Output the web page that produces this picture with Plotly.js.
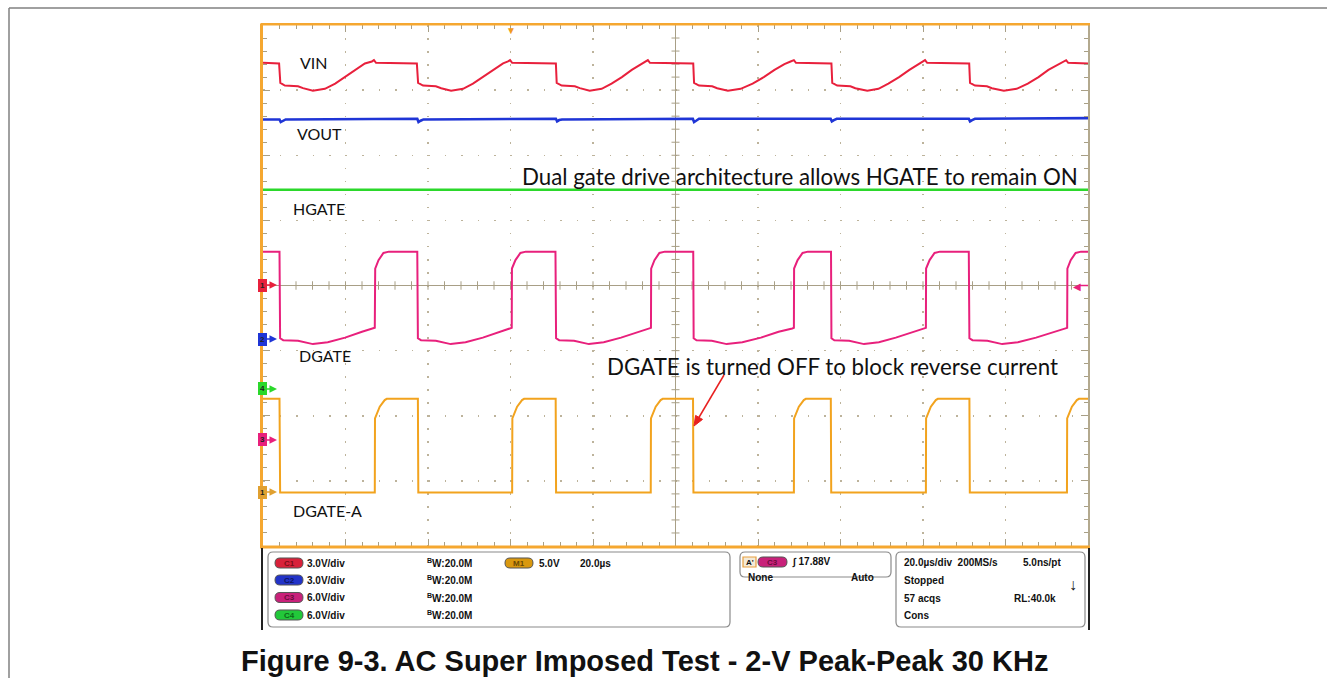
<!DOCTYPE html>
<html><head><meta charset="utf-8">
<script src="https://cdn.plot.ly/plotly-3.0.1.min.js"></script>
<style>html,body{margin:0;padding:0;background:#fff;}#chart{width:1327px;height:678px;}</style>
</head><body><div id="chart"></div>
<script>
// ---- time axis: microseconds (20 us/div, 10 div); vertical: screen divisions (0 = bottom, 8 = top)
const vinT = [0, 3.9,
  4.2, 5.3, 8.5, 9.7, 12.1, 15.0, 17.5, 19.9, 22.3, 24.7, 26.4, 26.9, 27.4, 37.3,
  37.6, 38.8, 41.9, 43.2, 45.6, 48.5, 50.9, 53.3, 55.8, 58.2, 59.4, 59.9, 60.4, 71.0,
  71.2, 72.4, 75.6, 76.8, 79.2, 82.1, 84.5, 87.0, 89.4, 91.8, 92.8, 93.3, 93.8, 104.3,
  104.5, 105.7, 108.9, 110.1, 112.7, 115.8, 118.7, 121.4, 124.0, 126.4, 127.9, 128.7, 129.2, 137.8,
  138.0, 139.2, 142.4, 143.6, 146.5, 149.2, 151.6, 154.2, 156.7, 158.8, 160.0, 160.5, 161.0, 171.2,
  171.4, 172.6, 175.5, 176.7, 179.6, 182.7, 185.4, 188.0, 190.4, 192.8, 194.0, 194.7, 195.2, 200];
const vinY = [7.42, 7.41,
  7.11, 7.07, 7.06, 7.03, 6.99, 7.02, 7.10, 7.20, 7.31, 7.41, 7.44, 7.46, 7.42, 7.41,
  7.11, 7.07, 7.06, 7.03, 6.99, 7.02, 7.10, 7.20, 7.31, 7.41, 7.44, 7.46, 7.42, 7.41,
  7.11, 7.07, 7.06, 7.03, 6.99, 7.02, 7.10, 7.20, 7.31, 7.41, 7.44, 7.46, 7.42, 7.41,
  7.11, 7.07, 7.06, 7.03, 6.99, 7.02, 7.10, 7.20, 7.31, 7.40, 7.44, 7.46, 7.42, 7.41,
  7.11, 7.07, 7.06, 7.03, 6.99, 7.02, 7.10, 7.20, 7.31, 7.40, 7.44, 7.46, 7.42, 7.41,
  7.11, 7.07, 7.06, 7.03, 6.99, 7.02, 7.10, 7.20, 7.31, 7.40, 7.44, 7.46, 7.42, 7.41];

const voutT = [0, 4.0, 4.3, 4.8, 5.5, 37.4, 37.7, 38.2, 38.9, 71.0, 71.3, 71.8, 72.5,
  104.2, 104.5, 105.0, 105.7, 137.6, 137.9, 138.4, 139.1, 171.1, 171.4, 171.9, 172.6, 200];
const voutY = [6.55, 6.55, 6.51, 6.53, 6.55, 6.56, 6.51, 6.53, 6.55, 6.56, 6.52, 6.54, 6.55,
  6.56, 6.51, 6.53, 6.56, 6.56, 6.52, 6.54, 6.56, 6.56, 6.52, 6.54, 6.56, 6.57];

const hgateT = [0, 200];
const hgateY = [5.47, 5.47];

const dgateT = [0, 4.0,
  4.15, 4.9, 8.5, 12.1, 15.7, 19.9, 24.0, 26.7, 27.1, 27.2, 28.0, 29.2, 30.5, 37.4,
  37.55, 38.3, 41.9, 45.5, 49.1, 53.3, 57.4, 60.0, 60.3, 60.35, 61.2, 62.4, 63.7, 70.9,
  71.05, 71.8, 75.4, 79.0, 82.6, 86.8, 90.9, 93.7, 94.05, 94.1, 94.9, 96.1, 97.4, 104.3,
  104.4, 105.1, 108.8, 112.4, 116.2, 120.7, 125.0, 128.3, 128.7, 128.75, 129.6, 130.8, 132.1, 137.7,
  137.8, 138.5, 142.1, 145.7, 149.3, 153.4, 157.5, 160.3, 160.7, 160.75, 161.6, 162.8, 164.1, 171.1,
  171.25, 172.0, 175.6, 179.2, 183.0, 187.4, 191.6, 194.5, 194.95, 195.0, 195.8, 197.0, 198.3, 200];
const dgateY = [4.52, 4.52,
  3.19, 3.16, 3.15, 3.10, 3.13, 3.20, 3.29, 3.34, 3.35, 4.26, 4.39, 4.50, 4.52, 4.52,
  3.19, 3.16, 3.15, 3.10, 3.13, 3.20, 3.29, 3.34, 3.35, 4.26, 4.39, 4.50, 4.52, 4.52,
  3.19, 3.16, 3.15, 3.10, 3.13, 3.20, 3.29, 3.34, 3.35, 4.26, 4.39, 4.50, 4.52, 4.52,
  3.19, 3.16, 3.15, 3.10, 3.13, 3.20, 3.29, 3.34, 3.35, 4.26, 4.39, 4.50, 4.52, 4.52,
  3.19, 3.16, 3.15, 3.10, 3.13, 3.20, 3.29, 3.34, 3.35, 4.26, 4.39, 4.50, 4.52, 4.52,
  3.19, 3.16, 3.15, 3.10, 3.13, 3.20, 3.29, 3.34, 3.35, 4.26, 4.39, 4.50, 4.52, 4.52];

const dgaT = [0, 4.0,
  4.15, 27.1, 27.15, 28.3, 29.5, 30.0,
  37.55, 37.65, 60.4, 60.45, 61.6, 62.8, 63.3,
  70.95, 71.05, 94.0, 94.05, 95.2, 96.4, 96.9,
  104.25, 104.35, 128.7, 128.75, 129.9, 131.1, 131.6,
  137.65, 137.75, 160.7, 160.75, 161.9, 163.1, 163.6,
  171.25, 171.35, 194.9, 194.95, 196.1, 197.3, 197.8, 200];
const dgaY = [2.26, 2.26,
  0.82, 0.82, 1.96, 2.14, 2.24, 2.26,
  2.26, 0.82, 0.82, 1.96, 2.14, 2.24, 2.26,
  2.26, 0.82, 0.82, 1.96, 2.14, 2.24, 2.26,
  2.26, 0.82, 0.82, 1.96, 2.14, 2.24, 2.26,
  2.26, 0.82, 0.82, 1.96, 2.14, 2.24, 2.26,
  2.26, 0.82, 0.82, 1.96, 2.14, 2.24, 2.26, 2.26];

const traceNames = ['VIN', 'VOUT', 'HGATE', 'DGATE', 'DGATE-A'];
const traceColors = ['#e8203c', '#1f35d6', '#2bd82b', '#e8207c', '#f2a31e'];
const traceLabelX = [12.4, 13.8, 13.6, 15.0, 15.6];
const traceLabelY = [7.43, 6.34, 5.19, 2.92, 0.54];

const noteTexts = ['Dual gate drive architecture allows HGATE to remain ON',
                   'DGATE is turned OFF to block reverse current'];
const noteX = [130.2, 138.1];
const noteY = [5.68, 2.76];

const markerLabels = ['1', '2', '4', '3', '1'];
const markerColors = ['#e8203c', '#1f35d6', '#2bd82b', '#e8207c', '#e0a030'];
const markerY = [4.007, 3.178, 2.411, 1.628, 0.829];

const chLabels = ['C1', 'C2', 'C3', 'C4'];
const chScale = ['3.0V/div', '3.0V/div', '6.0V/div', '6.0V/div'];
const chBw = ['20.0M', '20.0M', '20.0M', '20.0M'];
const chPill = ['#d8213a', '#2233c8', '#c8217a', '#22c83a'];
const chPillText = ['#7a0d18', '#0b1360', '#6a0b3c', '#0b6a18'];

const caption = 'Figure 9-3. AC Super Imposed Test - 2-V Peak-Peak 30 KHz';

// ---- geometry helpers (pixel -> paper), decoration only
const L = 263, R = 1088, T = 25, B = 546;
const px = x => (x - L) / (R - L);
const py = y => (B - y) / (B - T);

const series = [[vinT, vinY], [voutT, voutY], [hgateT, hgateY], [dgateT, dgateY], [dgaT, dgaY]];
const data = series.map((s, i) => ({
  x: s[0], y: s[1], type: 'scatter', mode: 'lines', name: traceNames[i],
  line: {color: traceColors[i], width: i === 1 || i === 2 ? 2.6 : 2}, hoverinfo: 'skip'
}));

const grat = '#bdb39b';
const shapes = [];
// page frame
shapes.push({type: 'line', xref: 'paper', yref: 'paper', x0: px(9), x1: px(1327), y0: py(8), y1: py(8), line: {color: '#808080', width: 1.5}});
shapes.push({type: 'line', xref: 'paper', yref: 'paper', x0: px(9), x1: px(9), y0: py(8), y1: py(678), line: {color: '#808080', width: 1.5}});
// center cross
shapes.push({type: 'line', xref: 'x', yref: 'y', x0: 100, x1: 100, y0: 0, y1: 8, layer: 'between', line: {color: '#a89f86', width: 1}});
shapes.push({type: 'line', xref: 'x', yref: 'y', x0: 0, x1: 200, y0: 4, y1: 4, layer: 'between', line: {color: '#a89f86', width: 1}});
for (let i = 1; i < 50; i++) {
  shapes.push({type: 'line', xref: 'x', yref: 'y', x0: 4 * i, x1: 4 * i, y0: 4 - 0.065, y1: 4 + 0.065, layer: 'between', line: {color: '#a89f86', width: 1}});
}
for (let j = 1; j < 40; j++) {
  shapes.push({type: 'line', xref: 'x', yref: 'y', x0: 100 - 0.97, x1: 100 + 0.97, y0: 0.2 * j, y1: 0.2 * j, layer: 'between', line: {color: '#a89f86', width: 1}});
}
// scope frame
shapes.push({type: 'line', xref: 'paper', yref: 'paper', x0: px(1089), x1: px(1089), y0: py(24), y1: py(547), line: {color: '#b3a98e', width: 2}});
shapes.push({type: 'line', xref: 'paper', yref: 'paper', x0: px(260), x1: px(1090), y0: py(24.5), y1: py(24.5), line: {color: '#f5a730', width: 2}});
shapes.push({type: 'line', xref: 'paper', yref: 'paper', x0: px(260), x1: px(1090), y0: py(547), y1: py(547), line: {color: '#f5a730', width: 3}});
shapes.push({type: 'line', xref: 'paper', yref: 'paper', x0: px(261.5), x1: px(261.5), y0: py(24), y1: py(548), line: {color: '#f5a730', width: 3}});
// right trigger level marker line
shapes.push({type: 'line', xref: 'paper', yref: 'y', x0: px(1079), x1: px(1088), y0: 4, y1: 4, line: {color: '#e8207c', width: 1.5}});
// red pointer arrow (line + head)
shapes.push({type: 'line', xref: 'paper', yref: 'paper', x0: px(724), y0: py(375), x1: px(698), y1: py(419), line: {color: '#e82020', width: 1.5}});
shapes.push({type: 'path', xref: 'paper', yref: 'paper',
  path: 'M' + px(694) + ',' + py(426) + ' L' + px(702.5) + ',' + py(419.4) + ' L' + px(695.6) + ',' + py(415.4) + ' Z',
  fillcolor: '#e82020', line: {color: '#e82020', width: 1}});

// bottom panel
function rrect(x0, y0, x1, y1, r) {
  const P = (x, y) => px(x).toFixed(5) + ',' + py(y).toFixed(5);
  return 'M' + P(x0 + r, y0) + ' L' + P(x1 - r, y0) + ' Q' + P(x1, y0) + ' ' + P(x1, y0 + r) +
    ' L' + P(x1, y1 - r) + ' Q' + P(x1, y1) + ' ' + P(x1 - r, y1) +
    ' L' + P(x0 + r, y1) + ' Q' + P(x0, y1) + ' ' + P(x0, y1 - r) +
    ' L' + P(x0, y0 + r) + ' Q' + P(x0, y0) + ' ' + P(x0 + r, y0) + ' Z';
}
shapes.push({type: 'line', xref: 'paper', yref: 'paper', x0: px(262), x1: px(262), y0: py(548), y1: py(630), line: {color: '#222', width: 2}});
shapes.push({type: 'line', xref: 'paper', yref: 'paper', x0: px(1089), x1: px(1089), y0: py(548), y1: py(630), line: {color: '#222', width: 2}});
shapes.push({type: 'path', xref: 'paper', yref: 'paper', path: rrect(268, 552, 730, 627, 5), line: {color: '#8a8a8a', width: 1.2}});
shapes.push({type: 'path', xref: 'paper', yref: 'paper', path: rrect(740, 552, 891, 577, 5), line: {color: '#8a8a8a', width: 1.2}});
shapes.push({type: 'path', xref: 'paper', yref: 'paper', path: rrect(896, 552, 1085, 627, 5), line: {color: '#8a8a8a', width: 1.2}});
const rowY = [563, 580, 597.5, 615];
const annotations = [];
const pf = (s, c) => ({family: '"Liberation Sans", Arial, sans-serif', size: s, color: c || '#111'});
for (let i = 0; i < 4; i++) {
  shapes.push({type: 'path', xref: 'paper', yref: 'paper', path: rrect(275, rowY[i] - 5, 303, rowY[i] + 5, 5), fillcolor: chPill[i], line: {color: '#555', width: 1}});
  annotations.push({xref: 'paper', yref: 'paper', x: px(289), y: py(rowY[i]), text: '<b>' + chLabels[i] + '</b>', font: pf(8, chPillText[i])});
  annotations.push({xref: 'paper', yref: 'paper', x: px(305), y: py(rowY[i]), xanchor: 'left', text: '<b>' + chScale[i] + '</b>', font: pf(10)});
  annotations.push({xref: 'paper', yref: 'paper', x: px(425), y: py(rowY[i]), xanchor: 'left', text: '<b><sup>B</sup>W:' + chBw[i] + '</b>', font: pf(10)});
}
shapes.push({type: 'path', xref: 'paper', yref: 'paper', path: rrect(505, 558, 533, 568, 5), fillcolor: '#d9980f', line: {color: '#555', width: 1}});
annotations.push({xref: 'paper', yref: 'paper', x: px(519), y: py(563), text: '<b>M1</b>', font: pf(8, '#6a4a05')});
annotations.push({xref: 'paper', yref: 'paper', x: px(537), y: py(563), xanchor: 'left', text: '<b>5.0V</b>', font: pf(10)});
annotations.push({xref: 'paper', yref: 'paper', x: px(578), y: py(563), xanchor: 'left', text: '<b>20.0µs</b>', font: pf(10)});
// trigger box
shapes.push({type: 'rect', xref: 'paper', yref: 'paper', x0: px(743), x1: px(756), y0: py(557), y1: py(567), fillcolor: '#f3ead8', line: {color: '#e8a040', width: 1.2}});
annotations.push({xref: 'paper', yref: 'paper', x: px(749.5), y: py(562), text: "<b>A'</b>", font: pf(8)});
shapes.push({type: 'path', xref: 'paper', yref: 'paper', path: rrect(758, 557, 787, 567, 5), fillcolor: '#c8217a', line: {color: '#555', width: 1}});
annotations.push({xref: 'paper', yref: 'paper', x: px(772.5), y: py(562), text: '<b>C3</b>', font: pf(8, '#6a0b3c')});
annotations.push({xref: 'paper', yref: 'paper', x: px(790), y: py(562), xanchor: 'left', text: '<b>∫ 17.88V</b>', font: pf(10)});
annotations.push({xref: 'paper', yref: 'paper', x: px(746), y: py(577), xanchor: 'left', text: '<b>None</b>', font: pf(10)});
annotations.push({xref: 'paper', yref: 'paper', x: px(876), y: py(577), xanchor: 'right', text: '<b>Auto</b>', font: pf(10)});
// timebase box
const tbText = ['20.0µs/div  200MS/s', 'Stopped', '57 acqs', 'Cons'];
const tbY = [562, 580, 598, 615.5];
tbText.forEach((t, i) => annotations.push({xref: 'paper', yref: 'paper', x: px(902), y: py(tbY[i]), xanchor: 'left', text: '<b>' + t + '</b>', font: pf(10)}));
annotations.push({xref: 'paper', yref: 'paper', x: px(1063), y: py(562), xanchor: 'right', text: '<b>5.0ns/pt</b>', font: pf(10)});
annotations.push({xref: 'paper', yref: 'paper', x: px(1058), y: py(598), xanchor: 'right', text: '<b>RL:40.0k</b>', font: pf(10)});
annotations.push({xref: 'paper', yref: 'paper', x: px(1073), y: py(584), text: '<b>↓</b>', font: pf(16)});

// trace labels
const lf = {family: 'Lato, "Open Sans", sans-serif', size: 16, color: '#111'};
traceNames.forEach((n, i) => annotations.push({x: traceLabelX[i], y: traceLabelY[i], text: n, font: lf}));
noteTexts.forEach((n, i) => annotations.push({x: noteX[i], y: noteY[i], text: n, font: {family: 'Lato, "Open Sans", sans-serif', size: 22.3, color: '#111'}}));
// channel ground markers
markerLabels.forEach((m, i) => annotations.push({xref: 'paper', yref: 'y', x: px(277), y: markerY[i], ax: -15, ay: 0,
  text: '<b>' + m + '</b>', showarrow: true, arrowhead: 2, arrowsize: 1, arrowwidth: 1.5, arrowcolor: markerColors[i],
  bgcolor: markerColors[i], bordercolor: markerColors[i], borderpad: 1, font: {family: '"Liberation Sans", Arial', size: 8, color: '#222'}}));
// right trigger level marker and top trigger position
annotations.push({xref: 'paper', yref: 'y', x: px(1077), y: 4.0, text: '◀', font: {size: 10, color: '#e8207c'}});
annotations.push({xref: 'x', yref: 'paper', x: 60.1, y: py(30), text: '▼', font: {size: 10, color: '#f29a1e'}});
// caption
annotations.push({xref: 'paper', yref: 'paper', x: px(644.5), y: py(661), text: '<b>' + caption + '</b>',
  font: {family: '"Liberation Sans", Arial, sans-serif', size: 29, color: '#111'}});

annotations.forEach(a => {
  if (a.showarrow === undefined) a.showarrow = false;
  if (!a.xanchor) a.xanchor = 'center';
  if (!a.yanchor) a.yanchor = 'middle';
});

const layout = {
  width: 1327, height: 678,
  margin: {l: L, r: 1327 - R, t: T, b: 678 - B, pad: 0},
  paper_bgcolor: '#ffffff', plot_bgcolor: '#ffffff',
  showlegend: false,
  xaxis: {range: [0, 200], dtick: 20, tick0: 0, showticklabels: false, zeroline: false,
    showgrid: true, gridcolor: grat, gridwidth: 1.5, griddash: '1.5px,11.5px',
    ticks: 'inside', ticklen: 7, tickcolor: '#a89f86', tickwidth: 1,
    minor: {dtick: 4, tick0: 0, ticks: 'inside', ticklen: 4, tickcolor: '#a89f86', showgrid: false},
    showline: true, linecolor: '#f5a730', linewidth: 2, mirror: 'ticks', fixedrange: true},
  yaxis: {range: [0, 8], dtick: 1, tick0: 0, showticklabels: false, zeroline: false,
    showgrid: true, gridcolor: grat, gridwidth: 1.5, griddash: '1.5px,15px',
    ticks: 'inside', ticklen: 7, tickcolor: '#a89f86', tickwidth: 1,
    minor: {dtick: 0.2, tick0: 0, ticks: 'inside', ticklen: 4, tickcolor: '#a89f86', showgrid: false},
    showline: true, linecolor: '#f5a730', linewidth: 2, mirror: 'ticks', fixedrange: true},
  shapes: shapes,
  annotations: annotations
};
Plotly.newPlot('chart', data, layout, {displayModeBar: false, staticPlot: true});
</script></body></html>
